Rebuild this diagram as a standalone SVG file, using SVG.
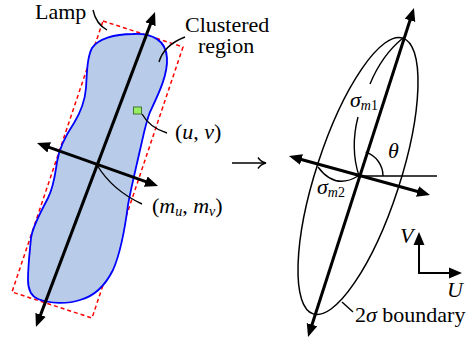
<svg xmlns="http://www.w3.org/2000/svg" width="475" height="349" viewBox="0 0 475 349">
<style>
text{font-family:Liberation Serif,Times New Roman,serif;font-size:22px;fill:#000}
.i{font-style:italic}
.s{font-size:14px}
.ax{stroke:#000;stroke-width:3;fill:none;marker-start:url(#ah);marker-end:url(#ah)}
.ax1{stroke:#000;stroke-width:2;fill:none;marker-end:url(#ah)}
.ld{stroke:#000;stroke-width:1.4;fill:none}
</style>
<defs>
<marker id="ah" markerUnits="userSpaceOnUse" markerWidth="14" markerHeight="12" refX="3" refY="5.5" orient="auto-start-reverse" viewBox="0 0 14 11">
<path d="M0,0 L13,5.5 L0,11 z" fill="#000"/>
</marker>
</defs>
<rect width="475" height="349" fill="#fff"/>
<g id="lamp">
<polygon points="103,21 183,47 92,318 12,292" fill="none" stroke="#ff0000" stroke-width="1.5" stroke-dasharray="4,3"/>
<text font-family="Liberation Serif, serif" font-size="22" x="35" y="19">Lamp</text>
</g>
<g id="clustered-region">
<path d="M 133,34 C 152,33 166,40 167,58 C 168,75 158,95 150,112 C 145,125 143,138 140,150 C 136,168 131,188 128,205 C 125,228 121,252 113,270 C 106,284 95,296 80,300 C 68,304 50,304 38,299 C 31,296 28,290 28,280 C 28,265 30,250 31,238 C 33,225 42,210 48,198 C 54,186 55,175 57,162 C 59,148 66,135 74,123 C 82,110 85,100 86,88 C 87,72 87,58 92,48 C 98,39 114,34 133,34 Z" fill="#b8cce9" stroke="#0000ff" stroke-width="1.8"/>
<text font-family="Liberation Serif, serif" font-size="22" x="185" y="32">Clustered</text>
<text font-family="Liberation Serif, serif" font-size="22" x="198" y="53">region</text>
</g>
<g id="pixel">
<rect x="133.5" y="107" width="8" height="7" fill="#99ee66" stroke="#2d5a1e" stroke-width="0.8"/>
<text font-family="Liberation Serif, serif" font-size="22" x="175" y="139">(<tspan font-style="italic">u</tspan>, <tspan font-style="italic">v</tspan>)</text>
</g>
<g id="mean">
<text font-family="Liberation Serif, serif" font-size="22" x="152" y="213">(<tspan font-style="italic">m</tspan><tspan font-style="italic" font-size="14" dy="3">u</tspan><tspan dy="-3">, </tspan><tspan font-style="italic">m</tspan><tspan font-style="italic" font-size="14" dy="3">v</tspan><tspan dy="-3">)</tspan></text>
</g>
<g id="ellipse">
<ellipse cx="358" cy="176" rx="145" ry="42" transform="rotate(-72 358 176)" fill="none" stroke="#000" stroke-width="1.5"/>
<text font-family="Liberation Serif, serif" font-size="22" x="355" y="322">2<tspan font-style="italic">σ</tspan> boundary</text>
</g>
<g id="sigma-m1">
<text font-family="Liberation Serif, serif" font-size="22" x="350" y="107"><tspan font-style="italic">σ</tspan><tspan font-style="italic" font-size="14" dy="3">m</tspan><tspan font-size="14">1</tspan></text>
</g>
<g id="sigma-m2">
<text font-family="Liberation Serif, serif" font-size="22" x="317" y="194"><tspan font-style="italic">σ</tspan><tspan font-style="italic" font-size="14" dy="3">m</tspan><tspan font-size="14">2</tspan></text>
</g>
<g id="theta">
<text font-family="Liberation Serif, serif" font-size="22" font-style="italic" x="388" y="158">θ</text>
</g>
<g id="uv-axes">
<text font-family="Liberation Serif, serif" font-size="22" font-style="italic" x="400" y="243">V</text>
<text font-family="Liberation Serif, serif" font-size="22" font-style="italic" x="447" y="297">U</text>
</g>
<g id="connectors">
<path class="ax" d="M 39.5,317.6 L 151.5,21.4"/>
<path class="ax" d="M 46.4,146.3 L 148.6,182.6"/>
<path class="ax" d="M 311.1,327.5 L 410.9,17.5"/>
<path class="ax" d="M 298.6,158.7 L 420.4,192.3"/>
<path class="ld" d="M 358,176 L 437,176"/>
<path class="ld" d="M 383,176 A 25 25 0 0 0 365.7,152.2"/>
<path class="ld" d="M 403,38 Q 382,55 370,84"/>
<path class="ld" d="M 358,117 Q 350,148 359,176"/>
<path class="ld" d="M 318,167 Q 335,190 358,176"/>
<path class="ax1" d="M 419,273 L 419,242"/>
<path class="ax1" d="M 418,273 L 452,273"/>
<path class="ld" d="M 342,302 L 353,312"/>
<path class="ld" d="M 93,10 Q 96,24 107,30"/>
<path class="ld" d="M 159,62 Q 164,45 185,37"/>
<path class="ld" d="M 142,114 Q 150,128 167,133"/>
<path class="ld" d="M 97,165 Q 112,190 142,204"/>
<path class="ld" stroke-width="1.8" d="M 232,163 L 265,163"/>
<path class="ld" stroke-width="1.6" d="M 258,157.5 Q 261,162 266,163 Q 261,164 258,168.5"/>
</g>
</svg>
